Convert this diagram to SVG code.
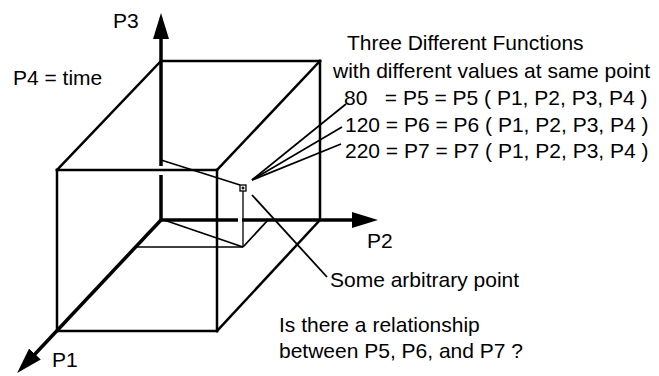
<svg xmlns="http://www.w3.org/2000/svg" width="659" height="376" viewBox="0 0 659 376">
<style>
  text { font-family: "Liberation Sans", Arial, sans-serif; font-size: 21px; fill: #000; }
  .edge { stroke: #000; stroke-width: 2.5; fill: none; stroke-linecap: square; }
  .axis { stroke: #000; stroke-width: 3.5; fill: none; }
  .thin { stroke: #000; stroke-width: 1.3; fill: none; }
  .mid { stroke: #000; stroke-width: 1.8; fill: none; }
  .lead { stroke: #000; stroke-width: 1.8; fill: none; }
</style>
<defs>
  <marker id="arrow" markerUnits="userSpaceOnUse" markerWidth="28" markerHeight="18" refX="16" refY="8" orient="auto">
    <path d="M0,0 L26,8 L0,16 Z" fill="#000"/>
  </marker>
</defs>
<rect width="659" height="376" fill="#fff"/>

<g id="cube">
  <line class="edge" x1="161" y1="61" x2="320" y2="61"/>
  <line class="edge" x1="320" y1="61" x2="320" y2="220"/>
  <line class="edge" x1="161" y1="61" x2="57" y2="170"/>
  <line class="edge" x1="320" y1="61" x2="217" y2="170"/>
  <line class="edge" x1="57" y1="170" x2="217" y2="170"/>
  <line class="edge" x1="57" y1="170" x2="57" y2="331"/>
  <line class="edge" x1="217" y1="170" x2="217" y2="331"/>
  <line class="edge" x1="57" y1="331" x2="217" y2="331"/>
  <line class="edge" x1="320" y1="220" x2="217" y2="331"/>
</g>

<g id="axis-p3">
  <line class="axis" x1="161" y1="220" x2="161" y2="175"/>
  <line class="axis" x1="161" y1="166" x2="161" y2="23" marker-end="url(#arrow)"/>
  <text x="113" y="28">P3</text>
</g>
<g id="axis-p2">
  <line class="axis" x1="161" y1="220" x2="238" y2="220" stroke-width="4"/>
  <line class="axis" x1="242" y1="220" x2="368" y2="220" stroke-width="4" marker-end="url(#arrow)"/>
  <text x="367" y="248">P2</text>
</g>
<g id="axis-p1">
  <line class="axis" x1="161" y1="220" x2="24" y2="365.7" stroke-width="3" marker-end="url(#arrow)"/>
  <text x="52" y="367">P1</text>
</g>

<g id="point">
  <line class="mid" x1="161" y1="160" x2="240" y2="185"/>
  <rect x="240" y="185" width="6" height="6" fill="#fff" stroke="#000" stroke-width="1.3"/>
  <line class="thin" x1="241.5" y1="188" x2="244.5" y2="188" stroke-width="0.8"/>
  <line class="thin" x1="243" y1="186.5" x2="243" y2="189.5" stroke-width="0.8"/>
  <line class="thin" x1="243" y1="191" x2="243" y2="247"/>
  <line class="thin" x1="135" y1="247" x2="243" y2="247" stroke-width="1.6"/>
  <line class="mid" x1="161" y1="219" x2="243" y2="247"/>
  <line class="mid" x1="243" y1="247" x2="268" y2="220"/>
</g>

<g id="connectors">
  <line class="lead" x1="252" y1="180" x2="346" y2="104"/>
  <line class="lead" x1="252" y1="180" x2="342" y2="127"/>
  <line class="lead" x1="252" y1="180" x2="341" y2="144"/>
  <line class="lead" x1="252" y1="195" x2="327" y2="277"/>
</g>

<g id="label-time">
  <text x="13" y="85">P4 = time</text>
</g>
<g id="label-functions">
  <text x="347" y="50">Three Different Functions</text>
  <text x="333" y="78">with different values at same point</text>
  <text x="344" y="105" xml:space="preserve">80   = P5 = P5 ( P1, P2, P3, P4 )</text>
  <text x="345" y="132">120 = P6 = P6 ( P1, P2, P3, P4 )</text>
  <text x="345" y="158">220 = P7 = P7 ( P1, P2, P3, P4 )</text>
</g>
<g id="label-point">
  <text x="330" y="287">Some arbitrary point</text>
</g>
<g id="label-question">
  <text x="279" y="332">Is there a relationship</text>
  <text x="279" y="358">between P5, P6, and P7 ?</text>
</g>
</svg>
